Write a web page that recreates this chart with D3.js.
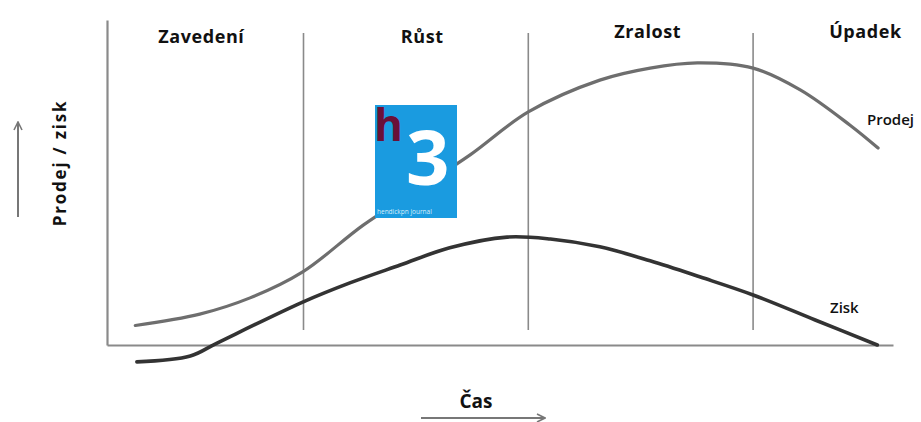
<!DOCTYPE html>
<html>
<head>
<meta charset="utf-8">
<script src="https://cdn.jsdelivr.net/npm/d3@7"></script>
<style>
  body { margin: 0; background: #fff; }
  text { font-family: "Open Sans", "DejaVu Sans", sans-serif; }
</style>
</head>
<body>
<script>
(function(){

//phase names and boundaries (time units 0-100)
var phases = ["Zavedení", "Růst", "Zralost", "Úpadek"];
var phaseCenters = [12, 40.1, 68.8, 96.5];
var phaseBounds = [25, 53.6, 82.2];

//curve samples: time / value
var prodejT = [3.6, 11.8, 18.2, 24.9, 32.6, 39.8, 46.2, 53.6, 62.7, 69.1, 75.1, 82.2, 88.2, 94.5, 98.1];
var prodejV = [6.0, 9.5, 14.5, 22.5, 36.9, 48.3, 58.5, 71.7, 81.5, 85.2, 86.8, 85.2, 78.5, 67.7, 60.6];

var ziskT = [3.8, 10.6, 14.0, 24.9, 30.9, 37.3, 43.6, 50.9, 56.4, 62.7, 69.1, 75.5, 82.2, 90.1, 98];
var ziskV = [-5.2, -3.4, 0.6, 13.2, 19.1, 24.6, 29.9, 33.2, 32.6, 30.2, 25.9, 20.9, 15.4, 7.7, 0];

window.onload = draw();

function draw(){
  var width = 921,
      height = 422;

  var svg = d3.select("body")
    .append("svg")
    .attr("width", width)
    .attr("height", height);

  var x = d3.scaleLinear().domain([0, 100]).range([107, 893]);
  var y = d3.scaleLinear().domain([0, 100]).range([345, 20]);

  //arrow marker
  var defs = svg.append("defs");
  defs.append("marker")
    .attr("id", "arr")
    .attr("viewBox", "0 0 10 10")
    .attr("refX", 9).attr("refY", 5)
    .attr("markerWidth", 5).attr("markerHeight", 5)
    .attr("markerUnits", "strokeWidth")
    .attr("orient", "auto")
    .append("path")
    .attr("d", "M1,1 L9,5 L1,9")
    .attr("fill", "none")
    .attr("stroke", "#777")
    .attr("stroke-width", 1.6);

  //phase dividers
  svg.selectAll(".divider")
    .data(phaseBounds)
    .enter()
    .append("line")
    .attr("class", "divider")
    .attr("x1", function(d){ return x(d); })
    .attr("x2", function(d){ return x(d); })
    .attr("y1", y(96))
    .attr("y2", y(4.6))
    .attr("stroke", "#8a8a8a")
    .attr("stroke-width", 1.6);

  //axes without ticks
  svg.append("g")
    .attr("transform", "translate(" + x(0) + ",0)")
    .call(d3.axisLeft(y).ticks(0).tickSizeOuter(0));
  svg.append("g")
    .attr("transform", "translate(0," + y(0) + ")")
    .call(d3.axisBottom(x).ticks(0).tickSizeOuter(0));
  svg.selectAll(".domain")
    .attr("stroke", "#8a8a8a")
    .attr("stroke-width", 2.2);

  //phase labels
  svg.selectAll(".phase")
    .data(phases)
    .enter()
    .append("text")
    .attr("class", "phase")
    .attr("x", function(d, i){ return x(phaseCenters[i]); })
    .attr("y", function(d, i){ return i < 2 ? 43 : 38; })
    .attr("text-anchor", "middle")
    .style("font-size", "18px")
    .style("font-weight", "bold")
    .style("letter-spacing", "0.6px")
    .style("fill", "#111")
    .text(function(d){ return d; });

  var line = d3.line()
    .x(function(d){ return x(d[0]); })
    .y(function(d){ return y(d[1]); })
    .curve(d3.curveCatmullRom.alpha(0.5));

  svg.append("path")
    .datum(d3.zip(prodejT, prodejV))
    .attr("d", line)
    .attr("fill", "none")
    .attr("stroke", "#6e6e6e")
    .attr("stroke-width", 3.2)
    .attr("stroke-linecap", "round");

  svg.append("path")
    .datum(d3.zip(ziskT, ziskV))
    .attr("d", line)
    .attr("fill", "none")
    .attr("stroke", "#333")
    .attr("stroke-width", 3.6)
    .attr("stroke-linecap", "round");

  //series labels
  svg.append("text")
    .attr("x", 867).attr("y", 125)
    .style("font-size", "15px")
    .style("font-weight", "600")
    .style("fill", "#111")
    .text("Prodej");
  svg.append("text")
    .attr("x", 830).attr("y", 313)
    .style("font-size", "15px")
    .style("font-weight", "600")
    .style("fill", "#111")
    .text("Zisk");

  //axis titles
  svg.append("text")
    .attr("transform", "translate(66,163) rotate(-90)")
    .attr("text-anchor", "middle")
    .style("font-size", "17px")
    .style("font-weight", "bold")
    .style("letter-spacing", "1.8px")
    .style("fill", "#111")
    .text("Prodej / zisk");
  svg.append("line")
    .attr("x1", 18).attr("y1", 217)
    .attr("x2", 18).attr("y2", 122)
    .attr("stroke", "#777")
    .attr("stroke-width", 2)
    .attr("marker-end", "url(#arr)");

  svg.append("text")
    .attr("x", 476).attr("y", 408)
    .attr("text-anchor", "middle")
    .style("font-size", "19px")
    .style("font-weight", "bold")
    .style("fill", "#111")
    .text("Čas");
  svg.append("line")
    .attr("x1", 421).attr("y1", 418)
    .attr("x2", 545).attr("y2", 418)
    .attr("stroke", "#777")
    .attr("stroke-width", 2)
    .attr("marker-end", "url(#arr)");

  //logo
  var logo = svg.append("g").attr("transform", "translate(375,105)");
  logo.append("rect")
    .attr("width", 82).attr("height", 113)
    .attr("fill", "#1a9be0");
  logo.append("text")
    .attr("x", -1).attr("y", 36)
    .style("font-size", "44px")
    .style("font-weight", "bold")
    .style("fill", "#6a1038")
    .text("h");
  logo.append("text")
    .attr("x", 31).attr("y", 80)
    .style("font-size", "76px")
    .style("font-weight", "bold")
    .style("fill", "#fff")
    .text("3");
  logo.append("text")
    .attr("x", 2).attr("y", 109)
    .style("font-size", "6.5px")
    .style("fill", "#d8eefa")
    .text("hendickpn journal");
}

})();
</script>
</body>
</html>
